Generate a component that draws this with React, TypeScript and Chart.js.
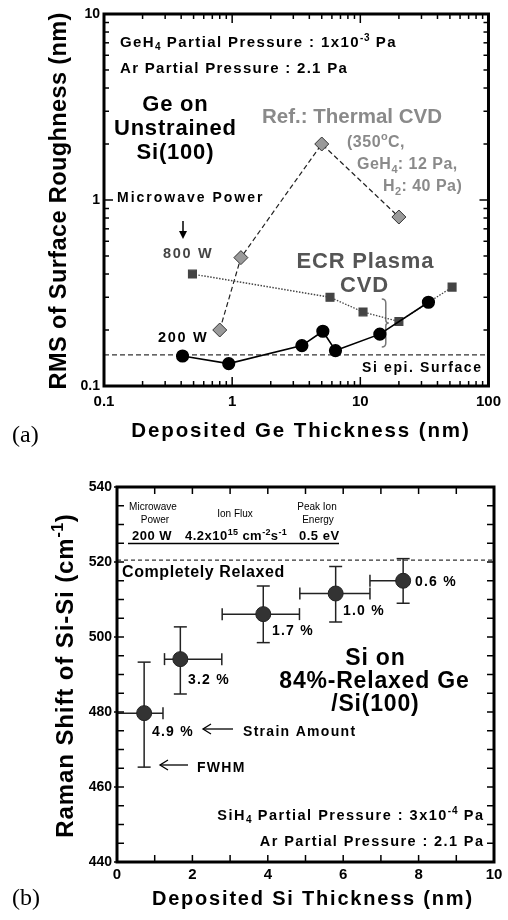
import React, { useEffect, useRef } from 'react';
import { Chart, registerables } from 'chart.js';
Chart.register(...registerables);

const SANS = '"Liberation Sans", Arial, Helvetica, sans-serif';
const SERIF = '"Liberation Serif", "Times New Roman", serif';

// ---------- (a) data: RMS roughness vs deposited Ge thickness ----------
const THERMAL_X = [0.8, 1.17, 5.0, 20];
const THERMAL_Y = [0.2, 0.49, 2.0, 0.81];
const W800_X = [0.49, 5.8, 10.5, 20, 52];
const W800_Y = [0.4, 0.3, 0.25, 0.222, 0.34];
const W200_X = [0.41, 0.94, 3.5, 5.1, 6.4, 14.2, 34];
const W200_Y = [0.145, 0.132, 0.165, 0.197, 0.155, 0.19, 0.282];
const SI_EPI_LEVEL = 0.147;
const A_X_TICKS = [0.1, 1, 10, 100];
const A_Y_TICKS = [0.1, 1, 10];
const BRACE_X = 15.8;
const BRACE_Y = [0.162, 0.294];

// ---------- (b) data: Raman shift vs deposited Si thickness ----------
const SI_THICK = [0.72, 1.68, 3.88, 5.8, 7.59];
const SI_THICK_MIN = [0, 1.26, 2.79, 4.85, 6.71];
const SI_THICK_MAX = [1.22, 2.78, 4.84, 6.71, 7.59];
const RAMAN = [479.7, 494.1, 506.1, 511.6, 515.0];
const RAMAN_LOW = [465.3, 484.8, 498.5, 504.0, 509.0];
const RAMAN_HIGH = [493.3, 502.7, 513.6, 518.8, 520.9];
const STRAIN = ['4.9 %', '3.2 %', '1.7 %', '1.0 %', '0.6 %'];
const RELAXED_LEVEL = 520.5;

const TOP_A = 0;
const H_A = 455;
const TOP_B = 455;
const H_B = 465;

type TextSpec = {
  s: string; x: number; y: number; size: number;
  weight?: string; color?: string; align?: 'left' | 'center' | 'right';
  sp?: number; family?: string; rot?: boolean;
};

type Seg = { t: string; mode: number };
function parseRich(s: string): Seg[] {
  const out: Seg[] = [];
  let buf = '';
  let i = 0;
  while (i < s.length) {
    const c = s[i];
    if ((c === '_' || c === '^') && s[i + 1] === '{') {
      if (buf) { out.push({ t: buf, mode: 0 }); buf = ''; }
      const end = s.indexOf('}', i);
      out.push({ t: s.slice(i + 2, end), mode: c === '^' ? 1 : -1 });
      i = end + 1;
    } else { buf += c; i++; }
  }
  if (buf) out.push({ t: buf, mode: 0 });
  return out;
}

function drawRich(ctx: CanvasRenderingContext2D, t: TextSpec, offY: number) {
  const segs = parseRich(t.s);
  const w = t.weight ?? 'bold';
  const fam = t.family ?? SANS;
  const sp = t.sp ?? 0;
  const setFont = (m: number) => {
    ctx.font = `${w} ${m === 0 ? t.size : Math.round(t.size * 0.68)}px ${fam}`;
    (ctx as any).letterSpacing = `${m === 0 ? sp : sp * 0.5}px`;
  };
  ctx.save();
  let total = 0;
  const widths = segs.map((sg) => { setFont(sg.mode); const ww = ctx.measureText(sg.t).width; total += ww; return ww; });
  total -= sp;
  ctx.translate(t.x, t.y - offY);
  if (t.rot) ctx.rotate(-Math.PI / 2);
  let x0 = t.align === 'center' ? -total / 2 : t.align === 'right' ? -total : 0;
  ctx.fillStyle = t.color ?? '#000';
  ctx.textBaseline = 'alphabetic';
  ctx.textAlign = 'left';
  segs.forEach((sg, i) => {
    setFont(sg.mode);
    const dy = sg.mode === 1 ? -t.size * 0.42 : sg.mode === -1 ? t.size * 0.22 : 0;
    ctx.fillText(sg.t, x0, dy);
    x0 += widths[i];
  });
  ctx.restore();
}

function line(ctx: CanvasRenderingContext2D, x1: number, y1: number, x2: number, y2: number) {
  ctx.beginPath(); ctx.moveTo(x1, y1); ctx.lineTo(x2, y2); ctx.stroke();
}

function openArrowLeft(ctx: CanvasRenderingContext2D, xTip: number, xEnd: number, y: number) {
  ctx.save(); ctx.strokeStyle = '#000'; ctx.lineWidth = 1.3;
  line(ctx, xTip, y, xEnd, y);
  ctx.beginPath(); ctx.moveTo(xTip + 8, y - 5); ctx.lineTo(xTip, y); ctx.lineTo(xTip + 8, y + 5); ctx.stroke();
  ctx.restore();
}

function logTicks(min: number, max: number) {
  const out: { v: number; major: boolean }[] = [];
  for (let e = Math.round(Math.log10(min)); e < Math.round(Math.log10(max)); e++) {
    const d = Math.pow(10, e);
    for (let m = 1; m <= 9; m++) out.push({ v: m * d, major: m === 1 });
  }
  out.push({ v: max, major: true });
  return out;
}

function linTicks(min: number, max: number, step: number, majorEvery: number) {
  const out: { v: number; major: boolean }[] = [];
  for (let v = min; v <= max + 1e-9; v += step) out.push({ v, major: Math.abs(((v - min) / majorEvery) - Math.round((v - min) / majorEvery)) < 1e-6 });
  return out;
}

function drawFrame(chart: any, xt: { v: number; major: boolean }[], yt: { v: number; major: boolean }[], majLen: number, minLen: number, leftOut: number) {
  const { ctx, chartArea: a, scales } = chart;
  ctx.save();
  ctx.strokeStyle = '#000';
  ctx.lineWidth = 1.5;
  xt.forEach((t) => {
    const px = scales.x.getPixelForValue(t.v);
    const L = t.major ? majLen : minLen;
    line(ctx, px, a.bottom, px, a.bottom - L);
    line(ctx, px, a.top, px, a.top + L);
  });
  yt.forEach((t) => {
    const py = scales.y.getPixelForValue(t.v);
    const L = t.major ? majLen : minLen;
    line(ctx, a.left - (t.major ? leftOut : 0), py, a.left + L, py);
    line(ctx, a.right, py, a.right - L, py);
  });
  ctx.lineWidth = 3;
  ctx.strokeRect(a.left, a.top, a.right - a.left, a.bottom - a.top);
  ctx.restore();
}

// ---------- annotations ----------
const GRAY = '#8a8a8a';
const A_TEXTS: TextSpec[] = [
  { s: 'GeH_{4} Partial Pressure : 1x10^{-3} Pa', x: 120, y: 47, size: 15, sp: 1.4 },
  { s: 'Ar Partial Pressure : 2.1 Pa', x: 120, y: 73, size: 15, sp: 1.3 },
  { s: 'Ge on', x: 175, y: 111, size: 22, sp: 0.8, align: 'center' },
  { s: 'Unstrained', x: 175, y: 135, size: 22, sp: 0.8, align: 'center' },
  { s: 'Si(100)', x: 175, y: 159, size: 22, sp: 0.8, align: 'center' },
  { s: 'Ref.: Thermal CVD', x: 352, y: 123, size: 20.5, color: GRAY, align: 'center' },
  { s: '(350^{o}C,', x: 347, y: 147, size: 16, color: GRAY, sp: 0.5 },
  { s: 'GeH_{4}: 12 Pa,', x: 357, y: 169, size: 16, color: GRAY, sp: 0.5 },
  { s: 'H_{2}: 40 Pa)', x: 383, y: 191, size: 16, color: GRAY, sp: 0.5 },
  { s: 'Microwave Power', x: 117, y: 202, size: 14, sp: 2.0 },
  { s: '800 W', x: 163, y: 258, size: 14.5, sp: 1.7, color: '#444' },
  { s: 'ECR Plasma', x: 365, y: 268, size: 22, sp: 0.8, color: '#555', align: 'center' },
  { s: 'CVD', x: 364, y: 292, size: 22, sp: 0.8, color: '#555', align: 'center' },
  { s: '200 W', x: 158, y: 342, size: 14.5, sp: 1.7 },
  { s: 'Si epi. Surface', x: 481, y: 372, size: 14, sp: 1.6, align: 'right' },
  { s: 'Deposited Ge Thickness (nm)', x: 300, y: 437, size: 20.5, sp: 1.9, align: 'center' },
  { s: 'RMS of Surface Roughness (nm)', x: 66, y: 201, size: 23.5, sp: 0.4, align: 'center', rot: true },
  { s: '(a)', x: 12, y: 442, size: 24, weight: 'normal', family: SERIF },
];

const B_TEXTS: TextSpec[] = [
  { s: 'Microwave', x: 153, y: 510, size: 10, weight: 'normal', align: 'center' },
  { s: 'Power', x: 155, y: 523, size: 10, weight: 'normal', align: 'center' },
  { s: 'Ion Flux', x: 235, y: 517, size: 10, weight: 'normal', align: 'center' },
  { s: 'Peak Ion', x: 317, y: 510, size: 10, weight: 'normal', align: 'center' },
  { s: 'Energy', x: 318, y: 523, size: 10, weight: 'normal', align: 'center' },
  { s: '200 W', x: 132, y: 540, size: 13, sp: 0.5 },
  { s: '4.2x10^{15} cm^{-2}s^{-1}', x: 185, y: 540, size: 13, sp: 0.5 },
  { s: '0.5 eV', x: 299, y: 540, size: 13, sp: 0.5 },
  { s: 'Completely Relaxed', x: 122, y: 577, size: 16, sp: 0.6 },
  { s: STRAIN[0], x: 152, y: 736, size: 14, sp: 1.2 },
  { s: STRAIN[1], x: 188, y: 684, size: 14, sp: 1.2 },
  { s: STRAIN[2], x: 272, y: 635, size: 14, sp: 1.2 },
  { s: STRAIN[3], x: 343, y: 615, size: 14, sp: 1.2 },
  { s: STRAIN[4], x: 415, y: 586, size: 14, sp: 1.2 },
  { s: 'Strain Amount', x: 243, y: 736, size: 14, sp: 1.3 },
  { s: 'FWHM', x: 197, y: 772, size: 14, sp: 1.3 },
  { s: 'Si on', x: 375, y: 665, size: 23, sp: 0.8, align: 'center' },
  { s: '84%-Relaxed Ge', x: 374, y: 688, size: 23, sp: 0.8, align: 'center' },
  { s: '/Si(100)', x: 375, y: 711, size: 23, sp: 0.8, align: 'center' },
  { s: 'SiH_{4} Partial Pressure : 3x10^{-4} Pa', x: 483, y: 820, size: 14.5, sp: 1.5, align: 'right' },
  { s: 'Ar Partial Pressure : 2.1 Pa', x: 483, y: 846, size: 14.5, sp: 1.4, align: 'right' },
  { s: 'Deposited Si Thickness (nm)', x: 312, y: 905, size: 20, sp: 1.8, align: 'center' },
  { s: 'Raman Shift of Si-Si (cm^{-1})', x: 73, y: 676, size: 24, sp: 0.9, align: 'center', rot: true },
  { s: '(b)', x: 12, y: 905, size: 24, weight: 'normal', family: SERIF },
];

const tickFont = (size: number) => ({ family: SANS, size, weight: 'bold' as const });

function configA(): any {
  const plugin = {
    id: 'annotA',
    beforeDatasetsDraw(chart: any) {
      const { ctx, chartArea: a, scales } = chart;
      ctx.save();
      ctx.strokeStyle = '#333'; ctx.lineWidth = 1.2; ctx.setLineDash([5, 3]);
      const py = scales.y.getPixelForValue(SI_EPI_LEVEL);
      line(ctx, a.left, py, a.right, py);
      ctx.restore();
      // brace
      const bx = scales.x.getPixelForValue(BRACE_X);
      const b1 = scales.y.getPixelForValue(BRACE_Y[1]);
      const b2 = scales.y.getPixelForValue(BRACE_Y[0]);
      const bm = (b1 + b2) / 2;
      ctx.save(); ctx.strokeStyle = '#777'; ctx.lineWidth = 1.5;
      ctx.beginPath();
      ctx.moveTo(bx - 4, b1);
      ctx.quadraticCurveTo(bx, b1, bx, b1 + 4);
      ctx.lineTo(bx, bm - 3);
      ctx.quadraticCurveTo(bx, bm, bx + 3, bm);
      ctx.quadraticCurveTo(bx, bm, bx, bm + 3);
      ctx.lineTo(bx, b2 - 4);
      ctx.quadraticCurveTo(bx, b2, bx - 4, b2);
      ctx.stroke();
      ctx.restore();
    },
    afterDraw(chart: any) {
      const { ctx, scales } = chart;
      drawFrame(chart, logTicks(scales.x.min, scales.x.max), logTicks(scales.y.min, scales.y.max), 9, 5, 0);
      A_TEXTS.forEach((t) => drawRich(ctx, t, TOP_A));
      // microwave power arrow
      ctx.save(); ctx.strokeStyle = '#000'; ctx.fillStyle = '#000'; ctx.lineWidth = 1.5;
      line(ctx, 183, 221 - TOP_A, 183, 233 - TOP_A);
      ctx.beginPath(); ctx.moveTo(179, 231 - TOP_A); ctx.lineTo(187, 231 - TOP_A); ctx.lineTo(183, 239 - TOP_A); ctx.closePath(); ctx.fill();
      ctx.restore();
    },
  };
  return {
    type: 'scatter',
    data: {
      datasets: [
        {
          label: '200 W', data: W200_X.map((x, i) => ({ x, y: W200_Y[i] })), showLine: true,
          borderColor: '#000', borderWidth: 1.6, pointStyle: 'circle', pointRadius: 5.8,
          pointBackgroundColor: '#000', pointBorderColor: '#000',
        },
        {
          label: '800 W', data: W800_X.map((x, i) => ({ x, y: W800_Y[i] })), showLine: true,
          borderColor: '#444', borderWidth: 1.3, borderDash: [1.5, 1.5], pointStyle: 'rect', pointRadius: 5.5,
          pointBackgroundColor: '#444', pointBorderColor: '#444',
        },
        {
          label: 'Thermal CVD', data: THERMAL_X.map((x, i) => ({ x, y: THERMAL_Y[i] })), showLine: true,
          borderColor: '#222', borderWidth: 1.2, borderDash: [5, 3], pointStyle: 'rectRot', pointRadius: 7,
          pointBackgroundColor: '#9a9a9a', pointBorderColor: '#333', pointBorderWidth: 1,
        },
      ],
    },
    options: {
      responsive: false, animation: false, devicePixelRatio: 1, events: [],
      layout: { padding: { left: 0, right: 18, top: 14, bottom: 0 } },
      plugins: { legend: { display: false }, tooltip: { enabled: false } },
      scales: {
        x: {
          type: 'logarithmic', min: 0.1, max: 100,
          afterBuildTicks: (s: any) => { s.ticks = A_X_TICKS.map((v) => ({ value: v })); },
          afterFit: (s: any) => { s.height = H_A - 14 - 372; },
          grid: { display: false, drawTicks: false }, border: { display: false },
          ticks: { padding: 7, color: '#000', font: tickFont(15), maxRotation: 0, autoSkip: false, callback: (v: any) => String(v) },
        },
        y: {
          type: 'logarithmic', min: 0.1, max: 10,
          afterBuildTicks: (s: any) => { s.ticks = A_Y_TICKS.map((v) => ({ value: v })); },
          afterFit: (s: any) => { s.width = 104; },
          grid: { display: false, drawTicks: false }, border: { display: false },
          ticks: { padding: 4, color: '#000', font: tickFont(14), autoSkip: false, callback: (v: any) => String(v) },
        },
      },
    },
    plugins: [plugin],
  };
}

function configB(): any {
  const plugin = {
    id: 'annotB',
    beforeDatasetsDraw(chart: any) {
      const { ctx, chartArea: a, scales: { x, y } } = chart;
      ctx.save();
      ctx.strokeStyle = '#333'; ctx.lineWidth = 1.2; ctx.setLineDash([4, 3]);
      const py = y.getPixelForValue(RELAXED_LEVEL);
      line(ctx, a.left, py, a.right, py);
      ctx.restore();
      ctx.save(); ctx.strokeStyle = '#222'; ctx.lineWidth = 1.5;
      SI_THICK.forEach((xv, i) => {
        const px = x.getPixelForValue(xv);
        const pyy = y.getPixelForValue(RAMAN[i]);
        const x1 = x.getPixelForValue(SI_THICK_MIN[i]);
        const x2 = x.getPixelForValue(SI_THICK_MAX[i]);
        const y1 = y.getPixelForValue(RAMAN_LOW[i]);
        const y2 = y.getPixelForValue(RAMAN_HIGH[i]);
        line(ctx, px, y1, px, y2);
        line(ctx, px - 6.5, y1, px + 6.5, y1);
        line(ctx, px - 6.5, y2, px + 6.5, y2);
        line(ctx, x1, pyy, x2, pyy);
        if (Math.abs(x1 - px) > 1) line(ctx, x1, pyy - 6, x1, pyy + 6);
        if (Math.abs(x2 - px) > 1) line(ctx, x2, pyy - 6, x2, pyy + 6);
      });
      ctx.restore();
    },
    afterDraw(chart: any) {
      const { ctx } = chart;
      drawFrame(chart, linTicks(0, 10, 1, 2), linTicks(440, 540, 5, 20), 7, 7, 3);
      B_TEXTS.forEach((t) => drawRich(ctx, t, TOP_B));
      ctx.save(); ctx.strokeStyle = '#000'; ctx.lineWidth = 1.5;
      line(ctx, 128, 543.5 - TOP_B, 339, 543.5 - TOP_B);
      ctx.restore();
      openArrowLeft(ctx, 203, 233, 729 - TOP_B);
      openArrowLeft(ctx, 160, 188, 765 - TOP_B);
    },
  };
  return {
    type: 'scatter',
    data: {
      datasets: [
        {
          label: 'Si on relaxed Ge', data: SI_THICK.map((x, i) => ({ x, y: RAMAN[i] })),
          pointStyle: 'circle', pointRadius: 7.5, pointBackgroundColor: '#333', pointBorderColor: '#222', pointBorderWidth: 1,
        },
      ],
    },
    options: {
      responsive: false, animation: false, devicePixelRatio: 1, events: [],
      layout: { padding: { left: 0, right: 14, top: 32, bottom: 0 } },
      plugins: { legend: { display: false }, tooltip: { enabled: false } },
      scales: {
        x: {
          type: 'linear', min: 0, max: 10,
          afterFit: (s: any) => { s.height = H_B - 32 - 375; },
          grid: { display: false, drawTicks: false }, border: { display: false },
          ticks: { stepSize: 2, padding: 4, color: '#000', font: tickFont(15), maxRotation: 0, autoSkip: false },
        },
        y: {
          type: 'linear', min: 440, max: 540,
          afterFit: (s: any) => { s.width = 117; },
          grid: { display: false, drawTicks: false }, border: { display: false },
          ticks: { stepSize: 20, padding: 5, color: '#000', font: tickFont(14), autoSkip: false },
        },
      },
    },
    plugins: [plugin],
  };
}

function ChartCanvas({ make, height }: { make: () => any; height: number }) {
  const ref = useRef<HTMLCanvasElement>(null);
  useEffect(() => {
    const chart = new Chart(ref.current as HTMLCanvasElement, make());
    return () => chart.destroy();
  }, []);
  return <canvas ref={ref} width={508} height={height} style={{ display: 'block', width: 508, height }} />;
}

export default function App() {
  return (
    <div style={{ position: 'absolute', left: 0, top: 0, width: 508, height: 920, background: '#fff' }}>
      <ChartCanvas make={configA} height={H_A} />
      <ChartCanvas make={configB} height={H_B} />
    </div>
  );
}
